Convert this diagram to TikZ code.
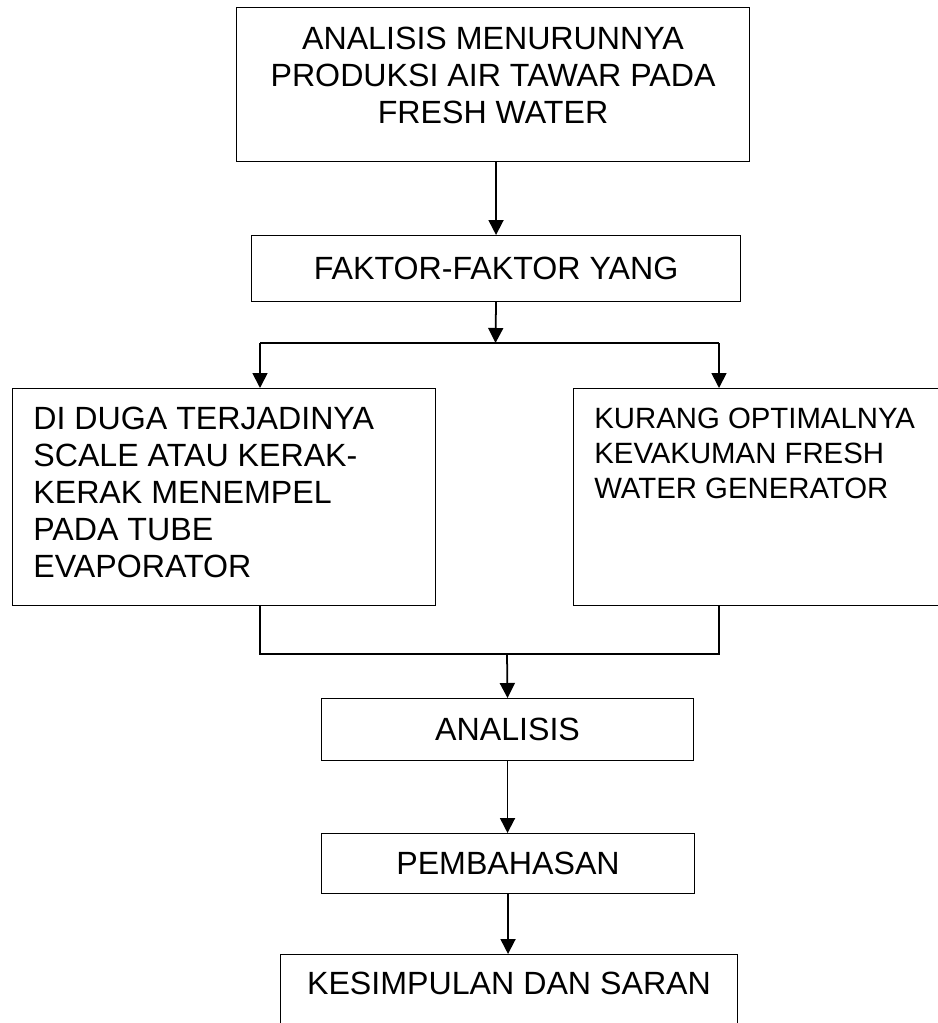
\documentclass[tikz,border=0pt]{standalone}
\usepackage{fontspec}
\setmainfont{Liberation Sans}
\usetikzlibrary{arrows.meta}

\begin{document}
\begin{tikzpicture}[x=0.2mm,y=-0.2mm,
	kotak/.style={draw,line width=0.6pt,rectangle,anchor=north west,inner sep=0pt,font=\fontsize{18.3}{21}\selectfont},
	isi/.style={inner sep=0pt,font=\fontsize{18.3}{21}\selectfont},
	isikecil/.style={inner sep=0pt,font=\fontsize{16.7}{19.8}\selectfont},
	panah/.style={line width=1pt,-{Triangle[width=3mm,length=3mm]}},
	garis/.style={line width=1pt}]
	\clip (0,0) rectangle (938,1023);
	\node[kotak,minimum width=102.6mm,minimum height=30.8mm,label={[isi,anchor=north,align=center,yshift=-4mm]north:ANALISIS MENURUNNYA\\PRODUKSI AIR TAWAR PADA\\FRESH WATER}] (masalah) at (236,7) {};
	\node[kotak,minimum width=97.8mm,minimum height=13.2mm] (faktor) at (251,235) {FAKTOR-FAKTOR YANG};
	\node[kotak,minimum width=84.6mm,minimum height=43.4mm,label={[isi,anchor=north west,align=left,xshift=4.2mm,yshift=-3.8mm]north west:DI DUGA TERJADINYA\\SCALE ATAU KERAK-\\KERAK MENEMPEL\\PADA TUBE\\EVAPORATOR}] (kiri) at (12,388) {};
	\node[kotak,minimum width=76mm,minimum height=43.4mm,label={[isikecil,anchor=north west,align=left,xshift=4.2mm,yshift=-4mm]north west:KURANG OPTIMALNYA\\KEVAKUMAN FRESH\\WATER GENERATOR}] (kanan) at (573,388) {};
	\node[kotak,minimum width=74.4mm,minimum height=12.4mm] (analisis) at (321,698) {ANALISIS};
	\node[kotak,minimum width=74.6mm,minimum height=12mm] (bahas) at (321,833) {PEMBAHASAN};
	\node[kotak,minimum width=91.4mm,minimum height=20mm,label={[isi,anchor=north,yshift=-3.6mm]north:KESIMPULAN DAN SARAN}] (simpulan) at (280,954) {};
	\coordinate (cabang) at (495.5,343);
	\coordinate (cabangkiri) at (260,343);
	\coordinate (cabangkanan) at (719,343);
	\coordinate (gabung) at (507,654);
	\coordinate (gabungkiri) at (260,654);
	\coordinate (gabungkanan) at (719,654);
	\draw[panah] (masalah.south -| faktor.north) -- (faktor.north);
	\draw[panah] (faktor.south) -- (cabang);
	\draw[garis] (cabangkiri) -- (cabangkanan);
	\draw[panah] (cabangkiri) -- (cabangkiri |- kiri.north);
	\draw[panah] (cabangkanan) -- (cabangkanan |- kanan.north);
	\draw[garis] (kiri.south -| gabungkiri) -- (gabungkiri) -- (gabungkanan) -- (kanan.south -| gabungkanan);
	\draw[panah] (gabung) -- (analisis.north);
	\draw[panah] (analisis.south) -- (analisis.south |- bahas.north);
	\draw[panah] (bahas.south) -- (bahas.south |- simpulan.north);
\end{tikzpicture}
\end{document}
